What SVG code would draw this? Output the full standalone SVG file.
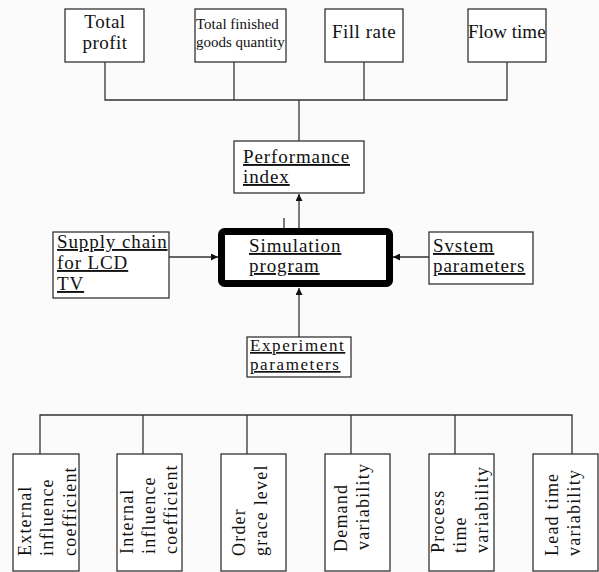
<svg xmlns="http://www.w3.org/2000/svg" width="599" height="572" viewBox="0 0 599 572">
<style>
.box{fill:#fff;stroke:#333;stroke-width:1.3}
.ln{fill:none;stroke:#333;stroke-width:1.3}
.t{font-family:"Liberation Serif","Times New Roman",serif;fill:#111}
.u{font-size:19px;letter-spacing:0.9px;text-decoration:underline}
.v{font-size:18px;letter-spacing:1.2px}
</style>
<defs>
<marker id="ah" viewBox="0 0 10 10" refX="10" refY="5" markerWidth="7" markerHeight="7" markerUnits="userSpaceOnUse" orient="auto">
<path d="M0,0 L10,5 L0,10 z" fill="#111"/>
</marker>
</defs>
<rect width="599" height="572" fill="#fbfbfb"/>

<g id="connectors">
<polyline class="ln" points="105,62 105,100 507,100 507,62"/>
<line class="ln" x1="234" y1="62" x2="234" y2="100"/>
<line class="ln" x1="364" y1="62" x2="364" y2="100"/>
<line class="ln" x1="299" y1="100" x2="299" y2="141"/>
<line class="ln" x1="299" y1="228" x2="299" y2="194" marker-end="url(#ah)"/>
<line class="ln" x1="284" y1="218" x2="284" y2="228"/>
<line class="ln" x1="169" y1="257" x2="218" y2="257" marker-end="url(#ah)"/>
<line class="ln" x1="429" y1="257" x2="393" y2="257" marker-end="url(#ah)"/>
<line class="ln" x1="299" y1="337" x2="299" y2="288" marker-end="url(#ah)"/>
<polyline class="ln" points="40,454 40,415 572,415 572,454"/>
<line class="ln" x1="143" y1="415" x2="143" y2="454"/>
<line class="ln" x1="247" y1="415" x2="247" y2="454"/>
<line class="ln" x1="351" y1="415" x2="351" y2="454"/>
<line class="ln" x1="455" y1="415" x2="455" y2="454"/>
</g>

<g id="total-profit">
<rect class="box" x="65" y="9" width="79" height="53"/>
<text class="t" font-size="19" letter-spacing="0.5" text-anchor="middle"><tspan x="105" y="28">Total</tspan><tspan x="105" y="49">profit</tspan></text>
</g>
<g id="total-finished">
<rect class="box" x="195" y="9" width="91" height="53"/>
<text class="t" font-size="15"><tspan x="196" y="29">Total finished</tspan><tspan x="196" y="47">goods quantity</tspan></text>
</g>
<g id="fill-rate">
<rect class="box" x="325" y="9" width="78" height="53"/>
<text class="t" font-size="19" letter-spacing="0.5" x="332" y="38">Fill rate</text>
</g>
<g id="flow-time">
<rect class="box" x="468" y="9" width="78" height="53"/>
<text class="t" font-size="19" x="468" y="38">Flow time</text>
</g>

<g id="performance-index">
<rect class="box" x="234" y="141" width="130" height="52"/>
<text class="t u"><tspan x="243" y="163">Performance</tspan><tspan x="243" y="183">index</tspan></text>
</g>
<g id="simulation-program">
<rect x="221.5" y="231.5" width="168" height="52" rx="3" fill="#fff" stroke="#000" stroke-width="7"/>
<text class="t u"><tspan x="249" y="252">Simulation</tspan><tspan x="249" y="272">program</tspan></text>
</g>
<g id="supply-chain">
<rect class="box" x="53" y="232" width="116" height="66"/>
<text class="t u"><tspan x="57" y="248">Supply chain</tspan><tspan x="57" y="269">for LCD</tspan><tspan x="57" y="290">TV</tspan></text>
</g>
<g id="system-parameters">
<rect class="box" x="429" y="232" width="104" height="52"/>
<text class="t u"><tspan x="433" y="252">Svstem</tspan><tspan x="433" y="272">parameters</tspan></text>
</g>
<g id="experiment-parameters">
<rect class="box" x="247" y="337" width="104" height="40"/>
<text class="t u" style="font-size:17px;letter-spacing:1.6px"><tspan x="250" y="351">Experiment</tspan><tspan x="250" y="370">parameters</tspan></text>
</g>

<g id="external-influence">
<rect class="box" x="13" y="454" width="66" height="117"/>
<text class="t v" transform="translate(31,556) rotate(-90)"><tspan x="0" y="0">External</tspan><tspan x="0" y="22">influence</tspan><tspan x="0" y="45">coefficient</tspan></text>
</g>
<g id="internal-influence">
<rect class="box" x="117" y="454" width="65" height="117"/>
<text class="t v" transform="translate(133,554) rotate(-90)"><tspan x="0" y="0">Internal</tspan><tspan x="0" y="22">influence</tspan><tspan x="0" y="44">coefficient</tspan></text>
</g>
<g id="order-grace">
<rect class="box" x="221" y="454" width="65" height="117"/>
<text class="t v" transform="translate(245,556) rotate(-90)"><tspan x="0" y="0">Order</tspan><tspan x="0" y="22">grace level</tspan></text>
</g>
<g id="demand-variability">
<rect class="box" x="325" y="454" width="65" height="117"/>
<text class="t v" transform="translate(347,552) rotate(-90)"><tspan x="0" y="0">Demand</tspan><tspan x="2" y="22">variability</tspan></text>
</g>
<g id="process-time">
<rect class="box" x="429" y="454" width="65" height="117"/>
<text class="t v" transform="translate(444,553) rotate(-90)"><tspan x="0" y="0">Process</tspan><tspan x="0" y="22">time</tspan><tspan x="0" y="44">variability</tspan></text>
</g>
<g id="lead-time">
<rect class="box" x="533" y="454" width="65" height="117"/>
<text class="t v" transform="translate(558,556) rotate(-90)"><tspan x="0" y="0">Lead time</tspan><tspan x="0" y="22">variability</tspan></text>
</g>
</svg>
